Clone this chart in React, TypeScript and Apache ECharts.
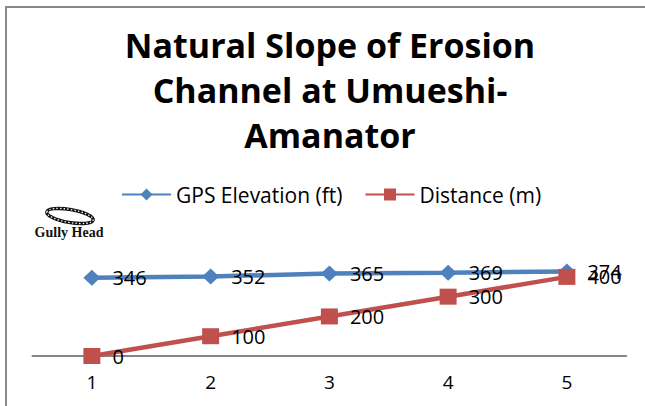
import React, { useEffect, useRef } from 'react';
import * as echarts from 'echarts';

const categories = ['1', '2', '3', '4', '5'];
const gpsElevation = [346, 352, 365, 369, 374];
const distance = [0, 100, 200, 300, 400];
const titleLines = ['Natural Slope of Erosion', 'Channel at Umueshi-', 'Amanator'];
const seriesNames = ['GPS Elevation (ft)', 'Distance (m)'];
const annotationText = 'Gully Head';

const FONT = '"Open Sans"';

export default function App() {
  const ref = useRef<HTMLDivElement>(null);
  useEffect(() => {
    const chart = echarts.init(ref.current!, null, { renderer: 'svg' });
    chart.setOption({
      animation: false,
      backgroundColor: '#ffffff',
      title: {
        text: titleLines.join('\n'),
        left: 330,
        top: 22,
        padding: 0,
        textAlign: 'center',
        textStyle: {
          fontFamily: FONT,
          fontWeight: 'bold',
          fontSize: 34,
          lineHeight: 45,
          color: '#000000',
        },
      },
      legend: {
        left: 121,
        top: 184,
        padding: 0,
        itemWidth: 49,
        itemHeight: 15,
        itemGap: 22,
        textStyle: { fontFamily: FONT, fontSize: 21, color: '#000000' },
        data: seriesNames,
      },
      grid: { left: 32.5, right: 18.75, top: 267, bottom: 50, containLabel: false },
      xAxis: {
        type: 'category',
        data: categories,
        boundaryGap: true,
        axisLine: { show: true, lineStyle: { color: '#868686', width: 2 } },
        axisTick: { show: false },
        axisLabel: { fontFamily: FONT, fontSize: 19, color: '#000000', margin: 16 },
        splitLine: { show: false },
      },
      yAxis: [
        { type: 'value', min: 0, max: 450, show: false, splitLine: { show: false } },
        { type: 'value', min: 0, max: 394, show: false, splitLine: { show: false } },
      ],
      series: [
        {
          name: seriesNames[0],
          type: 'line',
          yAxisIndex: 1,
          data: gpsElevation,
          symbol: 'diamond',
          symbolSize: [17, 16],
          lineStyle: { color: '#4F81BD', width: 4.5 },
          itemStyle: { color: '#4F81BD' },
          label: {
            show: true,
            position: 'right',
            distance: 12,
            fontFamily: FONT,
            fontSize: 20,
            color: '#000000',
          },
          z: 2,
        },
        {
          name: seriesNames[1],
          type: 'line',
          yAxisIndex: 0,
          data: distance,
          symbol: 'rect',
          symbolSize: [17, 16],
          lineStyle: { color: '#C0504D', width: 4.5 },
          itemStyle: { color: '#C0504D' },
          label: {
            show: true,
            position: 'right',
            distance: 12,
            fontFamily: FONT,
            fontSize: 20,
            color: '#000000',
          },
          z: 3,
        },
      ],
      graphic: [
        {
          type: 'rect',
          shape: { x: 6, y: 7, width: 700, height: 500 },
          style: { fill: 'none', stroke: '#898989', lineWidth: 2 },
          silent: true,
          z: -1,
        },
        {
          type: 'ellipse',
          x: 70,
          y: 216,
          rotation: -0.17,
          shape: { cx: 0, cy: 0, rx: 23.5, ry: 6.5 },
          style: { fill: 'none', stroke: '#111111', lineWidth: 3.4 },
          silent: true,
        },
        {
          type: 'ellipse',
          x: 70,
          y: 216,
          rotation: -0.17,
          shape: { cx: 0, cy: 0, rx: 23.5, ry: 6.5 },
          style: { fill: 'none', stroke: '#ffffff', lineWidth: 1.3, lineDash: [1.4, 2.2] },
          silent: true,
        },
        {
          type: 'text',
          x: 69,
          y: 232,
          style: {
            text: annotationText,
            font: 'bold 14px "Liberation Serif"',
            fill: '#111111',
            textAlign: 'center',
            textVerticalAlign: 'middle',
          },
          silent: true,
        },
      ],
    });
    return () => chart.dispose();
  }, []);
  return (
    <div
      ref={ref}
      style={{ position: 'fixed', left: 0, top: 0, width: 645, height: 406, background: '#ffffff' }}
    />
  );
}
